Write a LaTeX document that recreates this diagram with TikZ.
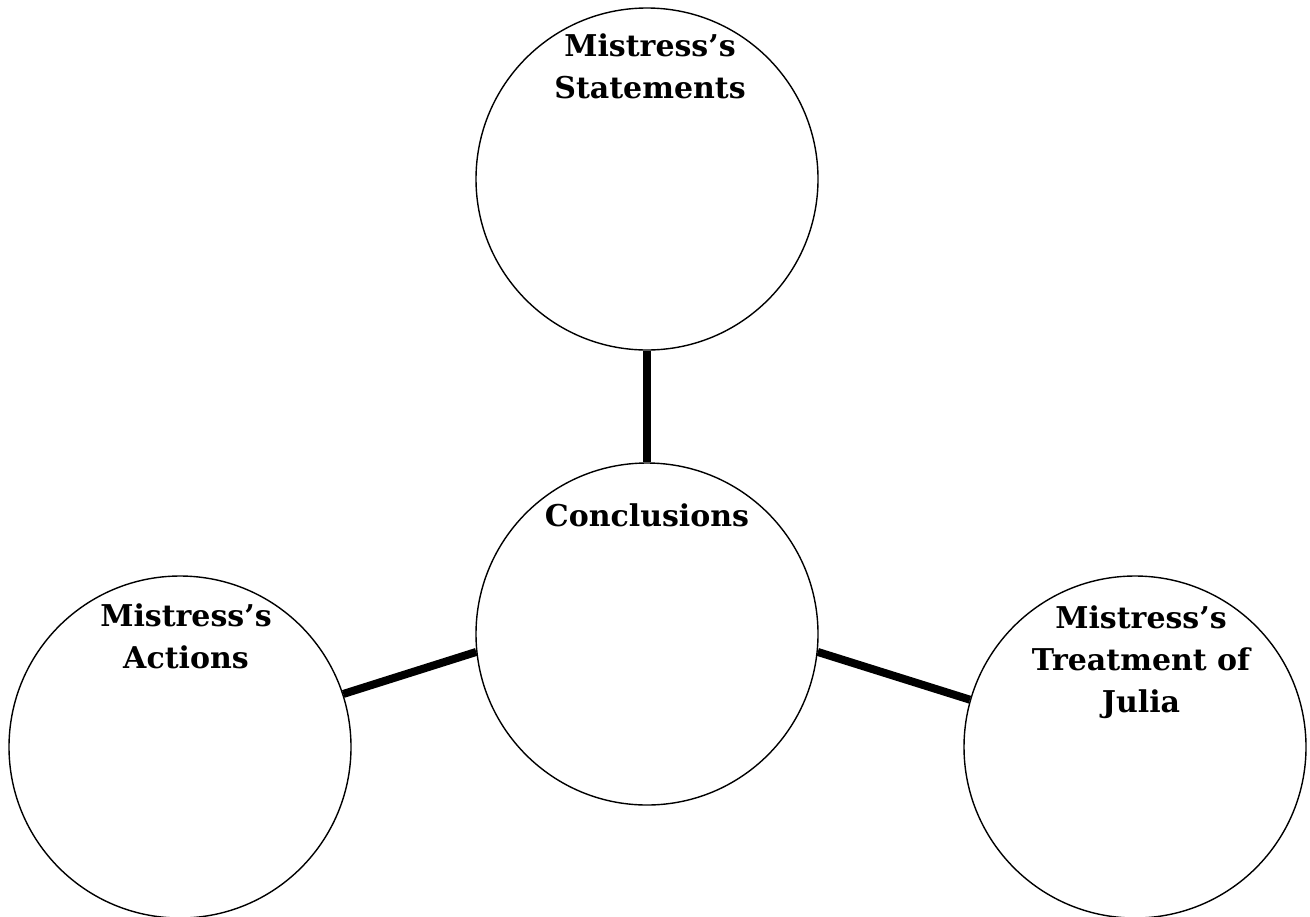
\documentclass[tikz,border=0pt]{standalone}
\usepackage{fontspec}
\setmainfont{DejaVu Serif}

\begin{document}
\begin{tikzpicture}[x=0.5pt,y=-0.5pt,
  bubble/.style={draw=black,circle,line width=0.7pt,minimum size=171pt,inner sep=0pt},
  heading/.style={anchor=north,align=center,inner sep=0pt,font=\bfseries\fontsize{15}{21}\selectfont},
  link/.style={line width=4pt}]
\useasboundingbox (0,0) rectangle (1310,916);
\node[bubble] (top) at (647,179) {};
\node[bubble] (mid) at (647,634) {};
\node[bubble] (left) at (180,747) {};
\node[bubble] (right) at (1135,747) {};
\node[heading] (toptext) at (650,33) {Mistress’s\\Statements};
\node[heading] (midtext) at (647,503) {Conclusions};
\node[heading] (lefttext) at (186,603) {Mistress’s\\Actions};
\node[heading] (righttext) at (1141,605) {Mistress’s\\Treatment of\\Julia};
\draw[link] (top.south)--(mid.north);
\draw[link] (left.18)--(mid.186);
\draw[link] (mid.-6)--(right.164);
\end{tikzpicture}
\end{document}
